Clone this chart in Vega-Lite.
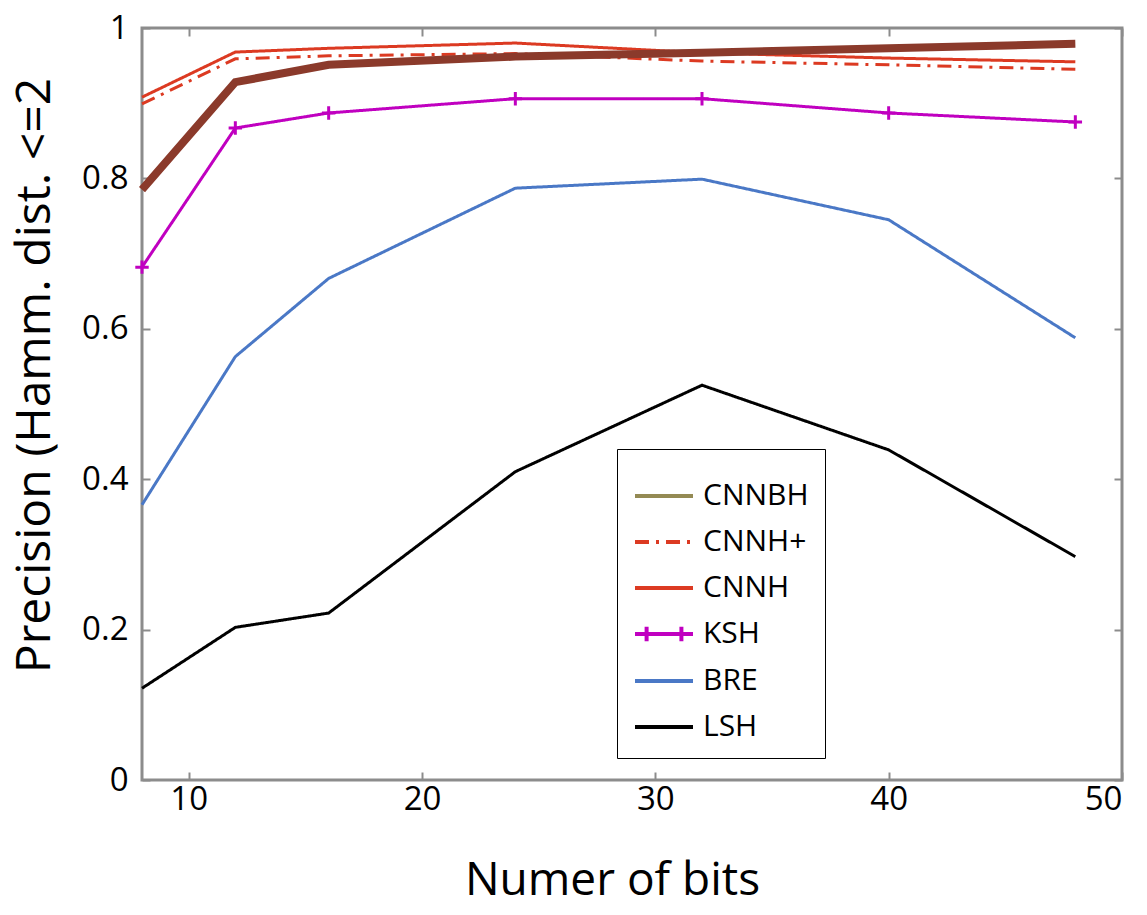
{
  "$schema": "https://vega.github.io/schema/vega-lite/v6.json",
  "width": 980,
  "height": 752,
  "autosize": {"type": "none"},
  "padding": {"left": 142, "top": 28, "right": 25, "bottom": 135},
  "background": "white",
  "config": {
    "font": "Open Sans",
    "view": {"stroke": "#8c8c8c", "strokeWidth": 3},
    "axis": {
      "grid": false,
      "domain": false,
      "tickColor": "#8c8c8c",
      "tickWidth": 2,
      "tickSize": -8,
      "labelColor": "black",
      "labelFont": "Open Sans",
      "labelFontSize": 33,
      "titleColor": "black",
      "titleFont": "Open Sans",
      "titleFontWeight": "normal"
    }
  },
  "data": {
    "values": [
      {"bits": 8, "precision": 0.122, "method": "LSH"},
      {"bits": 12, "precision": 0.203, "method": "LSH"},
      {"bits": 16, "precision": 0.222, "method": "LSH"},
      {"bits": 24, "precision": 0.41, "method": "LSH"},
      {"bits": 32, "precision": 0.525, "method": "LSH"},
      {"bits": 40, "precision": 0.439, "method": "LSH"},
      {"bits": 48, "precision": 0.297, "method": "LSH"},
      {"bits": 8, "precision": 0.366, "method": "BRE"},
      {"bits": 12, "precision": 0.563, "method": "BRE"},
      {"bits": 16, "precision": 0.667, "method": "BRE"},
      {"bits": 24, "precision": 0.787, "method": "BRE"},
      {"bits": 32, "precision": 0.799, "method": "BRE"},
      {"bits": 40, "precision": 0.745, "method": "BRE"},
      {"bits": 48, "precision": 0.588, "method": "BRE"},
      {"bits": 8, "precision": 0.682, "method": "KSH"},
      {"bits": 12, "precision": 0.867, "method": "KSH"},
      {"bits": 16, "precision": 0.887, "method": "KSH"},
      {"bits": 24, "precision": 0.906, "method": "KSH"},
      {"bits": 32, "precision": 0.906, "method": "KSH"},
      {"bits": 40, "precision": 0.887, "method": "KSH"},
      {"bits": 48, "precision": 0.875, "method": "KSH"},
      {"bits": 8, "precision": 0.908, "method": "CNNH"},
      {"bits": 12, "precision": 0.968, "method": "CNNH"},
      {"bits": 16, "precision": 0.973, "method": "CNNH"},
      {"bits": 24, "precision": 0.98, "method": "CNNH"},
      {"bits": 32, "precision": 0.967, "method": "CNNH"},
      {"bits": 40, "precision": 0.96, "method": "CNNH"},
      {"bits": 48, "precision": 0.955, "method": "CNNH"},
      {"bits": 8, "precision": 0.899, "method": "CNNH+"},
      {"bits": 12, "precision": 0.959, "method": "CNNH+"},
      {"bits": 16, "precision": 0.963, "method": "CNNH+"},
      {"bits": 24, "precision": 0.966, "method": "CNNH+"},
      {"bits": 32, "precision": 0.956, "method": "CNNH+"},
      {"bits": 40, "precision": 0.951, "method": "CNNH+"},
      {"bits": 48, "precision": 0.945, "method": "CNNH+"},
      {"bits": 8, "precision": 0.785, "method": "CNNBH"},
      {"bits": 12, "precision": 0.928, "method": "CNNBH"},
      {"bits": 16, "precision": 0.951, "method": "CNNBH"},
      {"bits": 24, "precision": 0.962, "method": "CNNBH"},
      {"bits": 32, "precision": 0.967, "method": "CNNBH"},
      {"bits": 40, "precision": 0.973, "method": "CNNBH"},
      {"bits": 48, "precision": 0.979, "method": "CNNBH"}
    ]
  },
  "layer": [
    {
      "transform": [{"filter": "datum.method !== 'CNNBH'"}],
      "mark": {"type": "line", "strokeWidth": 3, "strokeCap": "butt"},
      "encoding": {
        "x": {
          "field": "bits",
          "type": "quantitative",
          "scale": {"domain": [8, 50], "nice": false, "zero": false},
          "axis": {
            "values": [10, 20, 30, 40, 50],
            "labelPadding": 11,
            "title": "Numer of bits",
            "titleFontSize": 46,
            "titleX": 470,
            "titleY": 100,
            "titleBaseline": "middle"
          }
        },
        "y": {
          "field": "precision",
          "type": "quantitative",
          "scale": {"domain": [0, 1], "nice": false, "zero": true},
          "axis": {
            "values": [0, 0.2, 0.4, 0.6, 0.8, 1],
            "format": "~g",
            "labelPadding": 22,
            "labelBaseline": "middle",
            "encode": {"labels": {"update": {"dy": {"signal": "datum.value === 1 ? 10 : 0"}}}},
            "title": "Precision (Hamm. dist. <=2",
            "titleFontSize": 48,
            "titleX": -107,
            "titleY": 347,
            "titleBaseline": "middle",
            "titleAlign": "center"
          }
        },
        "color": {
          "field": "method",
          "type": "nominal",
          "scale": {
            "domain": ["CNNBH", "CNNH+", "CNNH", "KSH", "BRE", "LSH"],
            "range": ["#948a54", "#dc3a22", "#dc3a22", "#c000c0", "#4a78c6", "#000000"]
          },
          "legend": {
            "orient": "none",
            "legendX": 475,
            "legendY": 421,
            "title": null,
            "strokeColor": "black",
            "fillColor": "white",
            "padding": 16,
            "labelFont": "Open Sans",
            "labelFontSize": 30,
            "labelColor": "black",
            "labelOffset": 8,
            "symbolType": "stroke",
            "symbolSize": 3364,
            "symbolStrokeWidth": 4,
            "rowPadding": 0,
            "encode": {
              "symbols": {
                "update": {
                  "shape": {"signal": "datum.value === 'KSH' ? 'M-1,0H1M-0.6,-0.25V0.25M0.6,-0.25V0.25' : 'M-1,0H1'"},
                  "strokeWidth": {"value": 4}
                }
              }
            }
          }
        },
        "strokeDash": {
          "field": "method",
          "type": "nominal",
          "scale": {
            "domain": ["CNNBH", "CNNH+", "CNNH", "KSH", "BRE", "LSH"],
            "range": [[1, 0], [14, 7, 3, 7], [1, 0], [1, 0], [1, 0], [1, 0]]
          }
        }
      }
    },
    {
      "transform": [{"filter": "datum.method === 'CNNBH'"}],
      "mark": {"type": "line", "strokeWidth": 8, "strokeCap": "butt", "color": "#8b3a2b"},
      "encoding": {
        "x": {"field": "bits", "type": "quantitative", "axis": null},
        "y": {"field": "precision", "type": "quantitative", "axis": null}
      }
    },
    {
      "transform": [{"filter": "datum.method === 'KSH'"}],
      "mark": {"type": "point", "shape": "M0,-1V1M-1,0H1", "filled": false, "size": 180, "strokeWidth": 3, "color": "#c000c0", "opacity": 1},
      "encoding": {
        "x": {
          "field": "bits",
          "type": "quantitative",
          "axis": {"orient": "top", "values": [10, 20, 30, 40, 50], "labels": false, "title": null}
        },
        "y": {
          "field": "precision",
          "type": "quantitative",
          "axis": {"orient": "right", "values": [0, 0.2, 0.4, 0.6, 0.8, 1], "labels": false, "title": null}
        }
      }
    }
  ],
  "resolve": {"axis": {"x": "independent", "y": "independent"}}
}
